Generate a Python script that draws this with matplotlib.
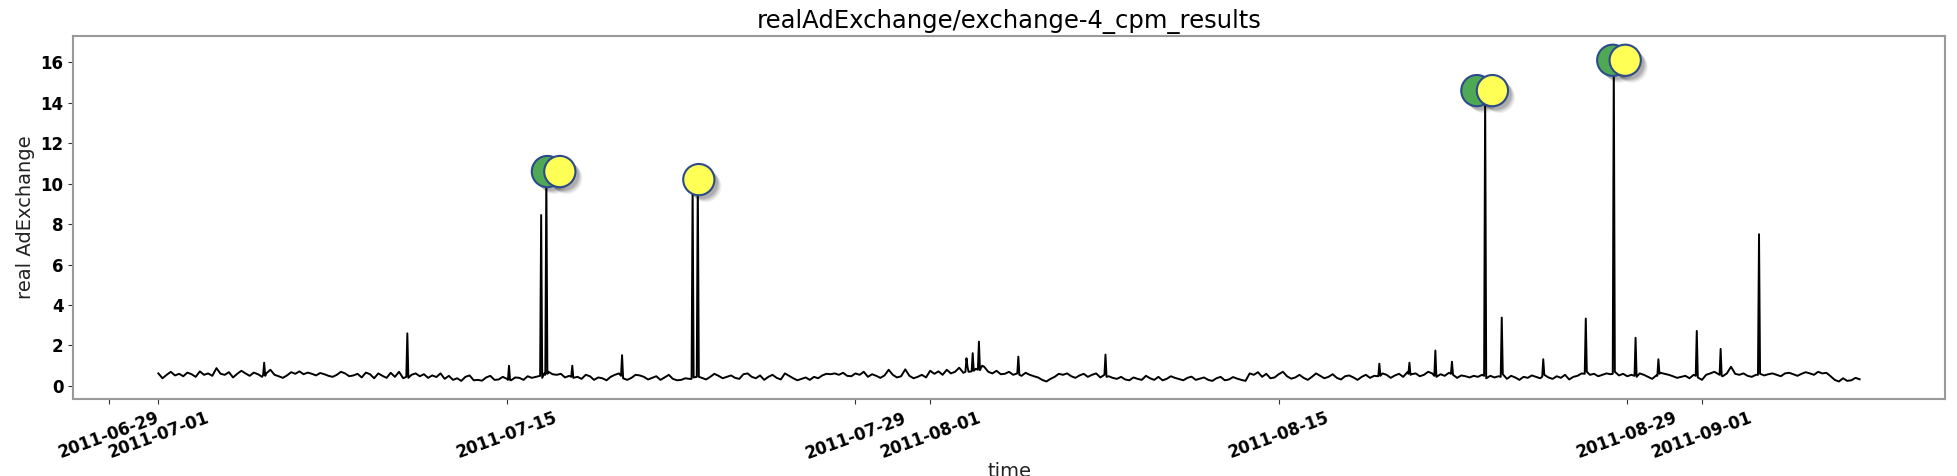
import matplotlib
matplotlib.use('Agg')
import matplotlib.pyplot as plt
import matplotlib.dates as mdates
import matplotlib.patheffects as pe
import pandas as pd

# ---------------- data ----------------
title = "realAdExchange/exchange-4_cpm_results"
x_label = "time"
y_label = "real AdExchange"

base_start = "2011-07-01 00:00"
base_freq = "4h"
# baseline, 4-hourly (00,04,08,12,16,20) per day
base_vals = [
    0.62, 0.38, 0.55, 0.70, 0.52, 0.60,   # 07-01
    0.48, 0.66, 0.58, 0.45, 0.72, 0.55,   # 07-02
    0.62, 0.50, 0.88, 0.60, 0.55, 0.68,   # 07-03
    0.42, 0.60, 0.75, 0.62, 0.50, 0.66,   # 07-04
    0.58, 0.45, 0.62, 0.80, 0.55, 0.48,   # 07-05
    0.40, 0.52, 0.68, 0.60, 0.72, 0.58,   # 07-06
    0.66, 0.60, 0.52, 0.64, 0.58, 0.50,   # 07-07
    0.45, 0.55, 0.70, 0.62, 0.48, 0.52,   # 07-08
    0.60, 0.42, 0.66, 0.58, 0.38, 0.62,   # 07-09
    0.50, 0.40, 0.65, 0.45, 0.70, 0.38,   # 07-10
    0.32, 0.55, 0.62, 0.48, 0.58, 0.40,   # 07-11
    0.52, 0.44, 0.62, 0.35, 0.50, 0.30,   # 07-12
    0.38, 0.25, 0.45, 0.52, 0.28, 0.30,   # 07-13
    0.26, 0.42, 0.50, 0.30, 0.32, 0.45,   # 07-14
    0.35, 0.28, 0.42, 0.40, 0.30, 0.48,   # 07-15
    0.40, 0.45, 0.50, 0.62, 0.70, 0.58,   # 07-16
    0.55, 0.60, 0.42, 0.50, 0.40, 0.45,   # 07-17
    0.35, 0.55, 0.48, 0.30, 0.42, 0.38,   # 07-18
    0.28, 0.45, 0.55, 0.62, 0.38, 0.30,   # 07-19
    0.40, 0.55, 0.52, 0.45, 0.32, 0.40,   # 07-20
    0.48, 0.30, 0.42, 0.55, 0.35, 0.28,   # 07-21
    0.30, 0.38, 0.35, 0.42, 0.48, 0.40,   # 07-22
    0.32, 0.45, 0.60, 0.50, 0.38, 0.45,   # 07-23
    0.52, 0.40, 0.35, 0.58, 0.62, 0.45,   # 07-24
    0.38, 0.52, 0.30, 0.45, 0.55, 0.40,   # 07-25
    0.32, 0.62, 0.50, 0.38, 0.28, 0.35,   # 07-26
    0.42, 0.30, 0.45, 0.38, 0.52, 0.60,   # 07-27
    0.58, 0.62, 0.55, 0.65, 0.50, 0.48,   # 07-28
    0.62, 0.55, 0.70, 0.45, 0.58, 0.50,   # 07-29
    0.40, 0.52, 0.80, 0.55, 0.42, 0.48,   # 07-30
    0.82, 0.50, 0.38, 0.45, 0.55, 0.42,   # 07-31
    0.75, 0.60, 0.72, 0.55, 0.80, 0.62,   # 08-01
    0.70, 0.90, 0.65, 0.95, 0.72, 0.85,   # 08-02
    0.78, 0.95, 0.70, 0.62, 0.75, 0.58,   # 08-03
    0.60, 0.70, 0.55, 0.62, 0.50, 0.65,   # 08-04
    0.55, 0.48, 0.42, 0.30, 0.22, 0.35,   # 08-05
    0.45, 0.60, 0.55, 0.62, 0.48, 0.40,   # 08-06
    0.52, 0.60, 0.45, 0.55, 0.62, 0.42,   # 08-07
    0.55, 0.48, 0.40, 0.35, 0.45, 0.32,   # 08-08
    0.28, 0.42, 0.35, 0.30, 0.50, 0.38,   # 08-09
    0.30, 0.45, 0.28, 0.35, 0.48, 0.40,   # 08-10
    0.34, 0.28, 0.40, 0.46, 0.30, 0.36,   # 08-11
    0.42, 0.30, 0.25, 0.38, 0.45, 0.28,   # 08-12
    0.32, 0.44, 0.36, 0.30, 0.25, 0.62,   # 08-13
    0.55, 0.68, 0.45, 0.60, 0.38, 0.42,   # 08-14
    0.58, 0.70, 0.48, 0.36, 0.42, 0.55,   # 08-15
    0.40, 0.30, 0.45, 0.62, 0.50, 0.38,   # 08-16
    0.45, 0.58, 0.40, 0.32, 0.48, 0.52,   # 08-17
    0.42, 0.30, 0.45, 0.55, 0.40, 0.50,   # 08-18
    0.48, 0.62, 0.55, 0.40, 0.52, 0.60,   # 08-19
    0.45, 0.68, 0.58, 0.62, 0.48, 0.55,   # 08-20
    0.70, 0.62, 0.45, 0.58, 0.50, 0.65,   # 08-21
    0.55, 0.40, 0.52, 0.48, 0.42, 0.50,   # 08-22
    0.45, 0.55, 0.38, 0.50, 0.42, 0.48,   # 08-23
    0.58, 0.35, 0.50, 0.42, 0.30, 0.45,   # 08-24
    0.40, 0.52, 0.45, 0.38, 0.55, 0.42,   # 08-25
    0.35, 0.48, 0.40, 0.55, 0.32, 0.45,   # 08-26
    0.50, 0.62, 0.85, 0.55, 0.60, 0.48,   # 08-27
    0.55, 0.62, 0.58, 0.70, 0.52, 0.60,   # 08-28
    0.48, 0.55, 0.40, 0.62, 0.55, 0.45,   # 08-29
    0.35, 0.52, 0.65, 0.60, 0.55, 0.48,   # 08-30
    0.40, 0.45, 0.50, 0.38, 0.55, 0.42,   # 08-31
    0.30, 0.55, 0.62, 0.70, 0.58, 0.48,   # 09-01
    0.62, 0.95, 0.60, 0.55, 0.62, 0.50,   # 09-02
    0.45, 0.55, 0.60, 0.52, 0.58, 0.62,   # 09-03
    0.55, 0.48, 0.62, 0.65, 0.58, 0.50,   # 09-04
    0.60, 0.68, 0.62, 0.55, 0.70, 0.62,   # 09-05
    0.65, 0.48, 0.30, 0.22, 0.38, 0.25,   # 09-06
    0.28, 0.40, 0.33,                     # 09-07
]

# hourly spikes (with the readings right before / after them)
spike_times = [
    "2011-07-05 05:00", "2011-07-05 06:00", "2011-07-05 07:00",
    "2011-07-10 23:00", "2011-07-11 00:00", "2011-07-11 01:00",
    "2011-07-15 01:00", "2011-07-15 02:00", "2011-07-15 03:00",
    "2011-07-16 09:00", "2011-07-16 10:00",
    "2011-07-16 13:00", "2011-07-16 14:00", "2011-07-16 15:00",
    "2011-07-17 14:00", "2011-07-17 15:00", "2011-07-17 16:00",
    "2011-07-19 14:00", "2011-07-19 15:00", "2011-07-19 16:00",
    "2011-07-22 10:00", "2011-07-22 11:00", "2011-07-22 12:00",
    "2011-07-22 15:00", "2011-07-22 16:00", "2011-07-22 17:00",
    "2011-08-02 10:00", "2011-08-02 11:00", "2011-08-02 13:00",
    "2011-08-02 17:00", "2011-08-02 18:00",
    "2011-08-02 22:00", "2011-08-02 23:00", "2011-08-03 02:00",
    "2011-08-04 13:00", "2011-08-04 14:00",
    "2011-08-08 01:00", "2011-08-08 02:00",
    "2011-08-19 01:00", "2011-08-19 02:00",
    "2011-08-20 05:00", "2011-08-20 06:00", "2011-08-20 07:00",
    "2011-08-21 06:00", "2011-08-21 07:00",
    "2011-08-21 22:00", "2011-08-21 23:00",
    "2011-08-23 06:00", "2011-08-23 07:00",
    "2011-08-23 22:00", "2011-08-23 23:00",
    "2011-08-25 14:00", "2011-08-25 15:00",
    "2011-08-27 07:00", "2011-08-27 08:00", "2011-08-27 09:00",
    "2011-08-28 10:00", "2011-08-28 11:00",
    "2011-08-29 07:00", "2011-08-29 08:00", "2011-08-29 09:00",
    "2011-08-30 05:00", "2011-08-30 06:00", "2011-08-30 07:00",
    "2011-08-31 18:00", "2011-08-31 19:00",
    "2011-09-01 17:00", "2011-09-01 18:00", "2011-09-01 19:00",
    "2011-09-03 06:00", "2011-09-03 07:00",
]
spike_vals = [
    0.55, 1.15, 0.50,
    0.45, 2.60, 0.40,
    0.30, 1.00, 0.30,
    8.45, 0.40,
    0.55, 10.55, 0.60,
    0.45, 1.00, 0.40,
    0.50, 1.52, 0.38,
    0.35, 9.90, 0.42,
    0.45, 10.20, 0.45,
    0.70, 1.37, 0.70,
    1.62, 0.75,
    0.80, 2.19, 1.00,
    1.45, 0.55,
    1.55, 0.45,
    1.10, 0.50,
    0.60, 1.15, 0.55,
    0.50, 1.75,
    0.60, 1.20,
    0.50, 14.60,
    0.45, 3.38,
    0.45, 1.32,
    0.60, 3.33, 0.70,
    0.60, 16.15,
    0.50, 2.38, 0.45,
    0.50, 1.32, 0.60,
    0.50, 2.72,
    0.55, 1.83, 0.50,
    0.55, 7.50,
]

# anomaly markers
green_times = ["2011-07-16 15:00", "2011-08-22 23:00", "2011-08-28 10:00"]
green_vals = [10.6, 14.6, 16.1]
yellow_times = ["2011-07-17 03:00", "2011-07-22 17:00", "2011-08-23 14:00", "2011-08-28 22:00"]
yellow_vals = [10.6, 10.2, 14.6, 16.1]

tick_monthdays = [1, 15, 29]
y_limits = (-0.66, 17.3)

# ---------------- build series ----------------
base = pd.Series(base_vals, index=pd.date_range(base_start, periods=len(base_vals), freq=base_freq))
spikes = pd.Series(spike_vals, index=pd.to_datetime(spike_times))
series = pd.concat([base, spikes]).groupby(level=0).max().sort_index()

# ---------------- plot ----------------
fig = plt.figure(figsize=(19.58, 4.76), dpi=100)
ax = fig.add_axes([0.03744, 0.16113, 0.95577, 0.76324])

ax.plot(series.index, series.values, color='black', lw=1.4, zorder=2)

shadow = [pe.SimplePatchShadow(offset=(o, -o), shadow_rgbFace='black', alpha=a)
          for o, a in [(5.0, 0.06), (4.2, 0.08), (3.4, 0.10), (2.6, 0.12)]] + [pe.Normal()]

ax.plot(pd.to_datetime(green_times), green_vals, ls='none', marker='o', ms=22.5,
        mfc='#4fa853', mec='#2c4a8c', mew=1.5, path_effects=shadow, zorder=3)
ax.plot(pd.to_datetime(yellow_times), yellow_vals, ls='none', marker='o', ms=22.5,
        mfc='#ffff55', mec='#2c4a8c', mew=1.5, path_effects=shadow, zorder=4)

ax.set_ylim(*y_limits)
ax.set_yticks(range(0, 17, 2))

ax.xaxis.set_major_locator(mdates.DayLocator(bymonthday=tick_monthdays))
ax.xaxis.set_major_formatter(mdates.DateFormatter('%Y-%m-%d'))

for lab in ax.get_xticklabels():
    lab.set_fontweight('bold')
    lab.set_fontsize(12)
    lab.set_rotation(20)
    lab.set_ha('center')
for lab in ax.get_yticklabels():
    lab.set_fontweight('bold')
    lab.set_fontsize(12)

ax.tick_params(axis='both', colors='#333333', labelcolor='black')

for s in ax.spines.values():
    s.set_color('#999999')
    s.set_linewidth(1.5)

ax.set_title(title, fontsize=17.5)
ax.set_ylabel(y_label, fontsize=14, color='#222222')
ax.set_xlabel(x_label, fontsize=14, color='#222222')
ax.xaxis.set_label_coords(0.5, -0.1726)

fig.savefig('out.png', dpi=100)
